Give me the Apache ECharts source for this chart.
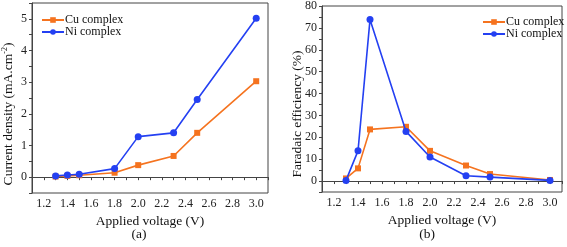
<!DOCTYPE html>
<html><head><meta charset="utf-8">
<script src="https://cdn.jsdelivr.net/npm/echarts@6/dist/echarts.min.js"></script>
<style>html,body{margin:0;padding:0;background:#fff}#c{width:567px;height:247px}</style>
</head><body><div id="c"></div>
<script>
const voltages = [1.3, 1.4, 1.5, 1.8, 2.0, 2.3, 2.5, 3.0];
const cuCurrent = [0.02, 0.04, 0.06, 0.14, 0.38, 0.67, 1.40, 3.03];
const niCurrent = [0.04, 0.07, 0.09, 0.27, 1.28, 1.40, 2.45, 5.02];
const cuFE = [1.2, 5.8, 23.6, 24.8, 13.8, 7.1, 3.2, 0.5];
const niFE = [0.3, 13.8, 73.8, 22.7, 11.0, 2.4, 1.8, 0.3];
const seriesNames = ['Cu complex', 'Ni complex'];
const xTitle = 'Applied voltage (V)';
const panelLabels = ['(a)', '(b)'];

const FONT = 'Liberation Serif';
const ORANGE = '#f5731f', BLUE = '#2440f2', AX = '#444';
const pair = (xs, ys) => xs.map((x, i) => [x, ys[i]]);

function xAxis(gi) {
  return {
    type: 'value', gridIndex: gi, min: 1.1, max: 3.1, interval: 0.1,
    name: xTitle, nameLocation: 'middle', nameGap: 13,
    nameTextStyle: { fontFamily: FONT, fontSize: 13.5, color: '#111' },
    axisLine: { lineStyle: { color: AX, width: 1 } },
    axisTick: { inside: false, length: 3, lineStyle: { color: AX } },
    splitLine: { show: false },
    axisLabel: {
      fontFamily: FONT, fontSize: 12, color: '#222', margin: 5,
      formatter: v => (Math.round(v * 10) % 2 === 0 ? v.toFixed(1) : '')
    }
  };
}
function yAxis(gi, min, max, interval, labelStep) {
  return {
    type: 'value', gridIndex: gi, min, max, interval,
    axisLine: { show: true, lineStyle: { color: AX, width: 1 } },
    axisTick: { show: true, length: 3, lineStyle: { color: AX } },
    splitLine: { show: false },
    axisLabel: {
      fontFamily: FONT, fontSize: 12, color: '#222', margin: 5,
      formatter: v => {
        const r = Math.round(v / labelStep);
        return Math.abs(v - r * labelStep) < 1e-6 && v >= 0 ? String(Math.round(v)) : '';
      }
    }
  };
}
function line(name, gi, data, color, symbol, size) {
  return {
    name, type: 'line', xAxisIndex: gi, yAxisIndex: gi, data,
    symbol, symbolSize: size, showSymbol: true,
    lineStyle: { color, width: 1.6 }, itemStyle: { color },
    emphasis: { disabled: true }, animation: false, z: symbol === 'circle' ? 3 : 2
  };
}
function legend(left, top) {
  return { left, top, orient: 'vertical', itemWidth: 22, itemHeight: 7, itemGap: 0,
    data: seriesNames,
    textStyle: { fontFamily: FONT, fontSize: 12, color: '#111', padding: [0, 0, 0, -4] } };
}

const chart = echarts.init(document.getElementById('c'), null, { renderer: 'canvas' });
chart.setOption({
  animation: false,
  grid: [
    { left: 32, right: 299, top: 3, bottom: 54, show: true, borderColor: AX, borderWidth: 1 },
    { left: 322, right: 5, top: 5, bottom: 55, show: true, borderColor: AX, borderWidth: 1 }
  ],
  xAxis: [xAxis(0), xAxis(1)],
  yAxis: [yAxis(0, -0.5, 5.5, 0.5, 1), yAxis(1, -5, 80, 5, 10)],
  legend: [legend(36, 9), legend(477, 11)],
  series: [
    line(seriesNames[0], 0, pair(voltages, cuCurrent), ORANGE, 'rect', 6),
    line(seriesNames[1], 0, pair(voltages, niCurrent), BLUE, 'circle', 7),
    line(seriesNames[0], 1, pair(voltages, cuFE), ORANGE, 'rect', 6),
    line(seriesNames[1], 1, pair(voltages, niFE), BLUE, 'circle', 7)
  ],
  graphic: [
    { type: 'text', x: 8, y: 114, rotation: Math.PI / 2,
      style: { text: '{a|Current density (mA.cm}{s|-2}{a|)}', align: 'center', verticalAlign: 'middle',
        rich: { a: { fontFamily: FONT, fontSize: 13.5, fill: '#111' },
                s: { fontFamily: FONT, fontSize: 8, fill: '#111', verticalAlign: 'top' } } } },
    { type: 'text', x: 297, y: 114, rotation: Math.PI / 2,
      style: { text: 'Faradaic efficiency (%)', align: 'center', verticalAlign: 'middle',
        fontFamily: FONT, fontSize: 13.5, fill: '#111' } },
    { type: 'text', x: 139, y: 234, style: { text: panelLabels[0], align: 'center', verticalAlign: 'middle', fontFamily: FONT, fontSize: 13.5, fill: '#111' } },
    { type: 'text', x: 427, y: 234, style: { text: panelLabels[1], align: 'center', verticalAlign: 'middle', fontFamily: FONT, fontSize: 13.5, fill: '#111' } }
  ]
});
</script></body></html>
